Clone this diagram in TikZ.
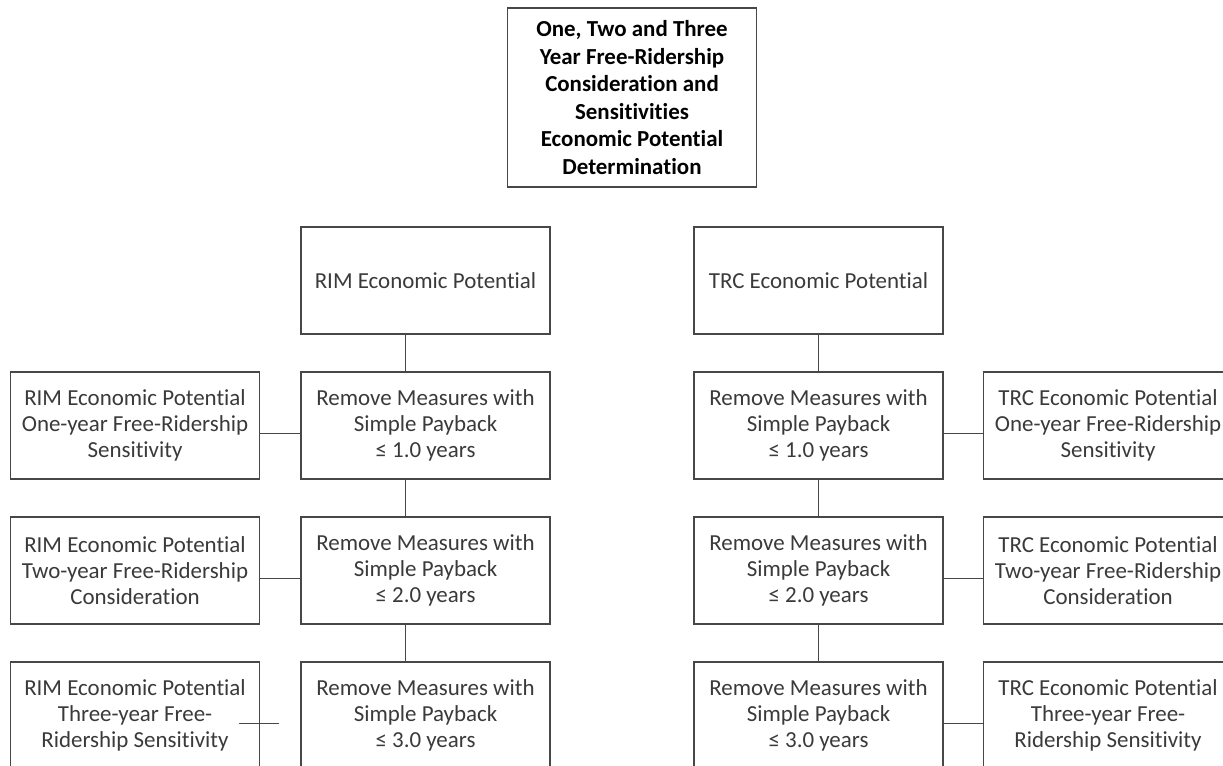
\documentclass[tikz,border=0pt]{standalone}
\usepackage{fontspec}
\setmainfont{Carlito}[Ligatures=NoCommon]
\definecolor{ink}{HTML}{3A3A3A}
\definecolor{edge}{HTML}{474747}
\begin{document}
\begin{tikzpicture}[x=0.75pt,y=-0.75pt,
  box/.style={draw=edge, line width=0.9pt, rectangle, inner sep=0pt,
    minimum width=186.75pt, minimum height=80.25pt, align=center, text=ink,
    font=\fontsize{17.2}{19.7}\selectfont},
  titlebox/.style={box, minimum height=134.25pt, text=black,
    font=\bfseries\fontsize{17.2}{20.7}\selectfont},
  link/.style={draw=edge, line width=0.9pt}]
\clip (0,0) rectangle (1223,766);
\fill[white] (0,0) rectangle (1223,766);

% heading
\node[titlebox] (title) at (632,97.5) {One, Two and Three\\Year Free-Ridership\\Consideration and\\Sensitivities\\Economic Potential\\Determination};

% RIM column
\node[box] (rim)  at (425.5,280.5) {RIM Economic Potential};
\node[box] (rl1) at (425.5,425.5) {Remove Measures with\\Simple Payback\\≤ 1.0 years};
\node[box] (rl2) at (425.5,570.5) {Remove Measures with\\Simple Payback\\≤ 2.0 years};
\node[box] (rl3) at (425.5,715.5) {Remove Measures with\\Simple Payback\\≤ 3.0 years};
\node[box] (sl1) at (135,425.5) {RIM Economic Potential\\One-year Free-Ridership\\Sensitivity};
\node[box] (sl2) at (135,570.5) {RIM Economic Potential\\Two-year Free-Ridership\\Consideration};
\node[box] (sl3) at (135,715.5) {RIM Economic Potential\\Three-year Free-\\Ridership Sensitivity};

% TRC column
\node[box] (trc) at (818.5,280.5) {TRC Economic Potential};
\node[box] (rr1) at (818.5,425.5) {Remove Measures with\\Simple Payback\\≤ 1.0 years};
\node[box] (rr2) at (818.5,570.5) {Remove Measures with\\Simple Payback\\≤ 2.0 years};
\node[box] (rr3) at (818.5,715.5) {Remove Measures with\\Simple Payback\\≤ 3.0 years};
\node[box] (sr1) at (1108,425.5) {TRC Economic Potential\\One-year Free-Ridership\\Sensitivity};
\node[box] (sr2) at (1108,570.5) {TRC Economic Potential\\Two-year Free-Ridership\\Consideration};
\node[box] (sr3) at (1108,715.5) {TRC Economic Potential\\Three-year Free-\\Ridership Sensitivity};

% RIM connectors (vertical trunk sits left of the box centres)
\draw[link] ([xshift=-15pt]rim.south) -- ([xshift=-15pt]rl1.north);
\draw[link] ([xshift=-15pt]rl1.south) -- ([xshift=-15pt]rl2.north);
\draw[link] ([xshift=-15pt]rl2.south) -- ([xshift=-15pt]rl3.north);
\draw[link] ([yshift=-6pt]sl1.east) -- ([yshift=-6pt]rl1.west);
\draw[link] ([yshift=-6pt]sl2.east) -- ([yshift=-6pt]rl2.west);
\draw[link] ([xshift=-15.75pt,yshift=-6pt]sl3.east) -- ([xshift=-15.75pt,yshift=-6pt]rl3.west);

% TRC connectors
\draw[link] (trc.south) -- (rr1.north);
\draw[link] (rr1.south) -- (rr2.north);
\draw[link] (rr2.south) -- (rr3.north);
\draw[link] ([yshift=-6pt]rr1.east) -- ([yshift=-6pt]sr1.west);
\draw[link] ([yshift=-6pt]rr2.east) -- ([yshift=-6pt]sr2.west);
\draw[link] ([yshift=-6pt]rr3.east) -- ([yshift=-6pt]sr3.west);
\end{tikzpicture}
\end{document}
